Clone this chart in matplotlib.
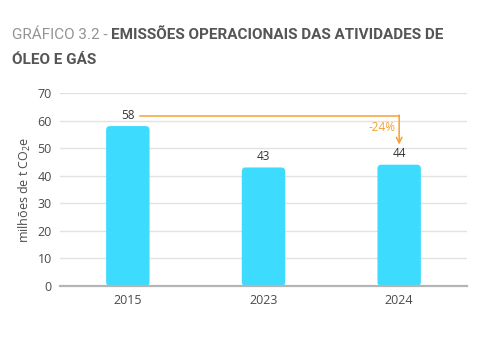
import matplotlib.pyplot as plt
from matplotlib.patches import FancyBboxPatch

plt.rcParams['font.family'] = ['Open Sans', 'DejaVu Sans']
plt.rcParams['mathtext.fontset'] = 'custom'
plt.rcParams['mathtext.rm'] = 'Open Sans'

years = ['2015', '2023', '2024']
emissions = [58, 43, 44]
change_label = '-24%'

bar_color = '#3ddcff'
arrow_color = '#f5a031'
text_color = '#4a4a4a'
title_font = ['Roboto', 'DejaVu Sans']

fig = plt.figure(figsize=(4.93, 3.48), dpi=100)
ax = fig.add_axes([60 / 493, 62 / 348, 407 / 493, 193 / 348])

x = list(range(len(years)))
width = 0.32
bars = ax.bar(x, emissions, width=width, color=bar_color)

# swap the plain bars for ones with rounded corners
for b in bars:
    b.set_visible(False)
    px, py = b.get_x(), b.get_y()
    w, h = b.get_width(), b.get_height()
    r = 0.03
    patch = FancyBboxPatch((px + r, py + r * 48), w - 2 * r, h - 2 * r * 48,
                           boxstyle=f'round,pad={r}', mutation_aspect=48,
                           facecolor=bar_color, edgecolor='none', zorder=3)
    ax.add_patch(patch)

for xi, v in zip(x, emissions):
    ax.text(xi, v + 1.6, str(v), ha='center', va='bottom', fontsize=8.5,
            color='#333333')

# reduction arrow from 2015 over to 2024
y_top = 61.7
ax.plot([0.09, 2.0], [y_top, y_top], color=arrow_color, lw=1.1, zorder=4)
ax.annotate('', xy=(2.0, 51.3), xytext=(2.0, y_top + 0.3),
            arrowprops=dict(arrowstyle='->', color=arrow_color, lw=1.1,
                            shrinkA=0, shrinkB=0), zorder=4)
ax.text(1.97, 57.6, change_label, ha='right', va='center', fontsize=8.5,
        color=arrow_color)

ax.set_xlim(-0.5, 2.5)
ax.set_ylim(0, 70)
ax.set_yticks(range(0, 71, 10))
ax.set_xticks(x)
ax.set_xticklabels(years)
ax.tick_params(axis='both', length=0, labelsize=9, colors=text_color)
ax.tick_params(axis='y', pad=6)
ax.tick_params(axis='x', pad=6)
ax.grid(axis='y', color='#e2e2e2', lw=1)
ax.set_axisbelow(True)
for side in ['top', 'right', 'left']:
    ax.spines[side].set_visible(False)
ax.spines['bottom'].set_color('#b5b5b5')
ax.spines['bottom'].set_linewidth(1.6)
ax.spines['bottom'].set_zorder(5)

ax.set_ylabel('milhões de t CO$_2$e', fontsize=9, color=text_color,
              labelpad=3)

# title: light prefix followed by bold heading, sized to fit the first line
renderer = fig.canvas.get_renderer()
title_y1 = 1 - 35 / 348
title_y2 = 1 - 60 / 348
size = 12
t1 = fig.text(12 / 493, title_y1, 'GRÁFICO 3.2 - ', fontsize=size,
              family=title_font, color='#939393', va='center', ha='left')
t2 = fig.text(0, title_y1, 'EMISSÕES OPERACIONAIS DAS ATIVIDADES DE',
              fontsize=size, family=title_font, fontweight='bold',
              color='#555555', va='center', ha='left')
full = (t1.get_window_extent(renderer).width
        + t2.get_window_extent(renderer).width)
size = size * 432 / full
t1.set_fontsize(size)
t2.set_fontsize(size)
t2.set_x(t1.get_window_extent(renderer).x1 / fig.bbox.width)
fig.text(12 / 493, title_y2, 'ÓLEO E GÁS', fontsize=size, family=title_font,
         fontweight='bold', color='#555555', va='center', ha='left')

fig.savefig('out.png', dpi=100)
